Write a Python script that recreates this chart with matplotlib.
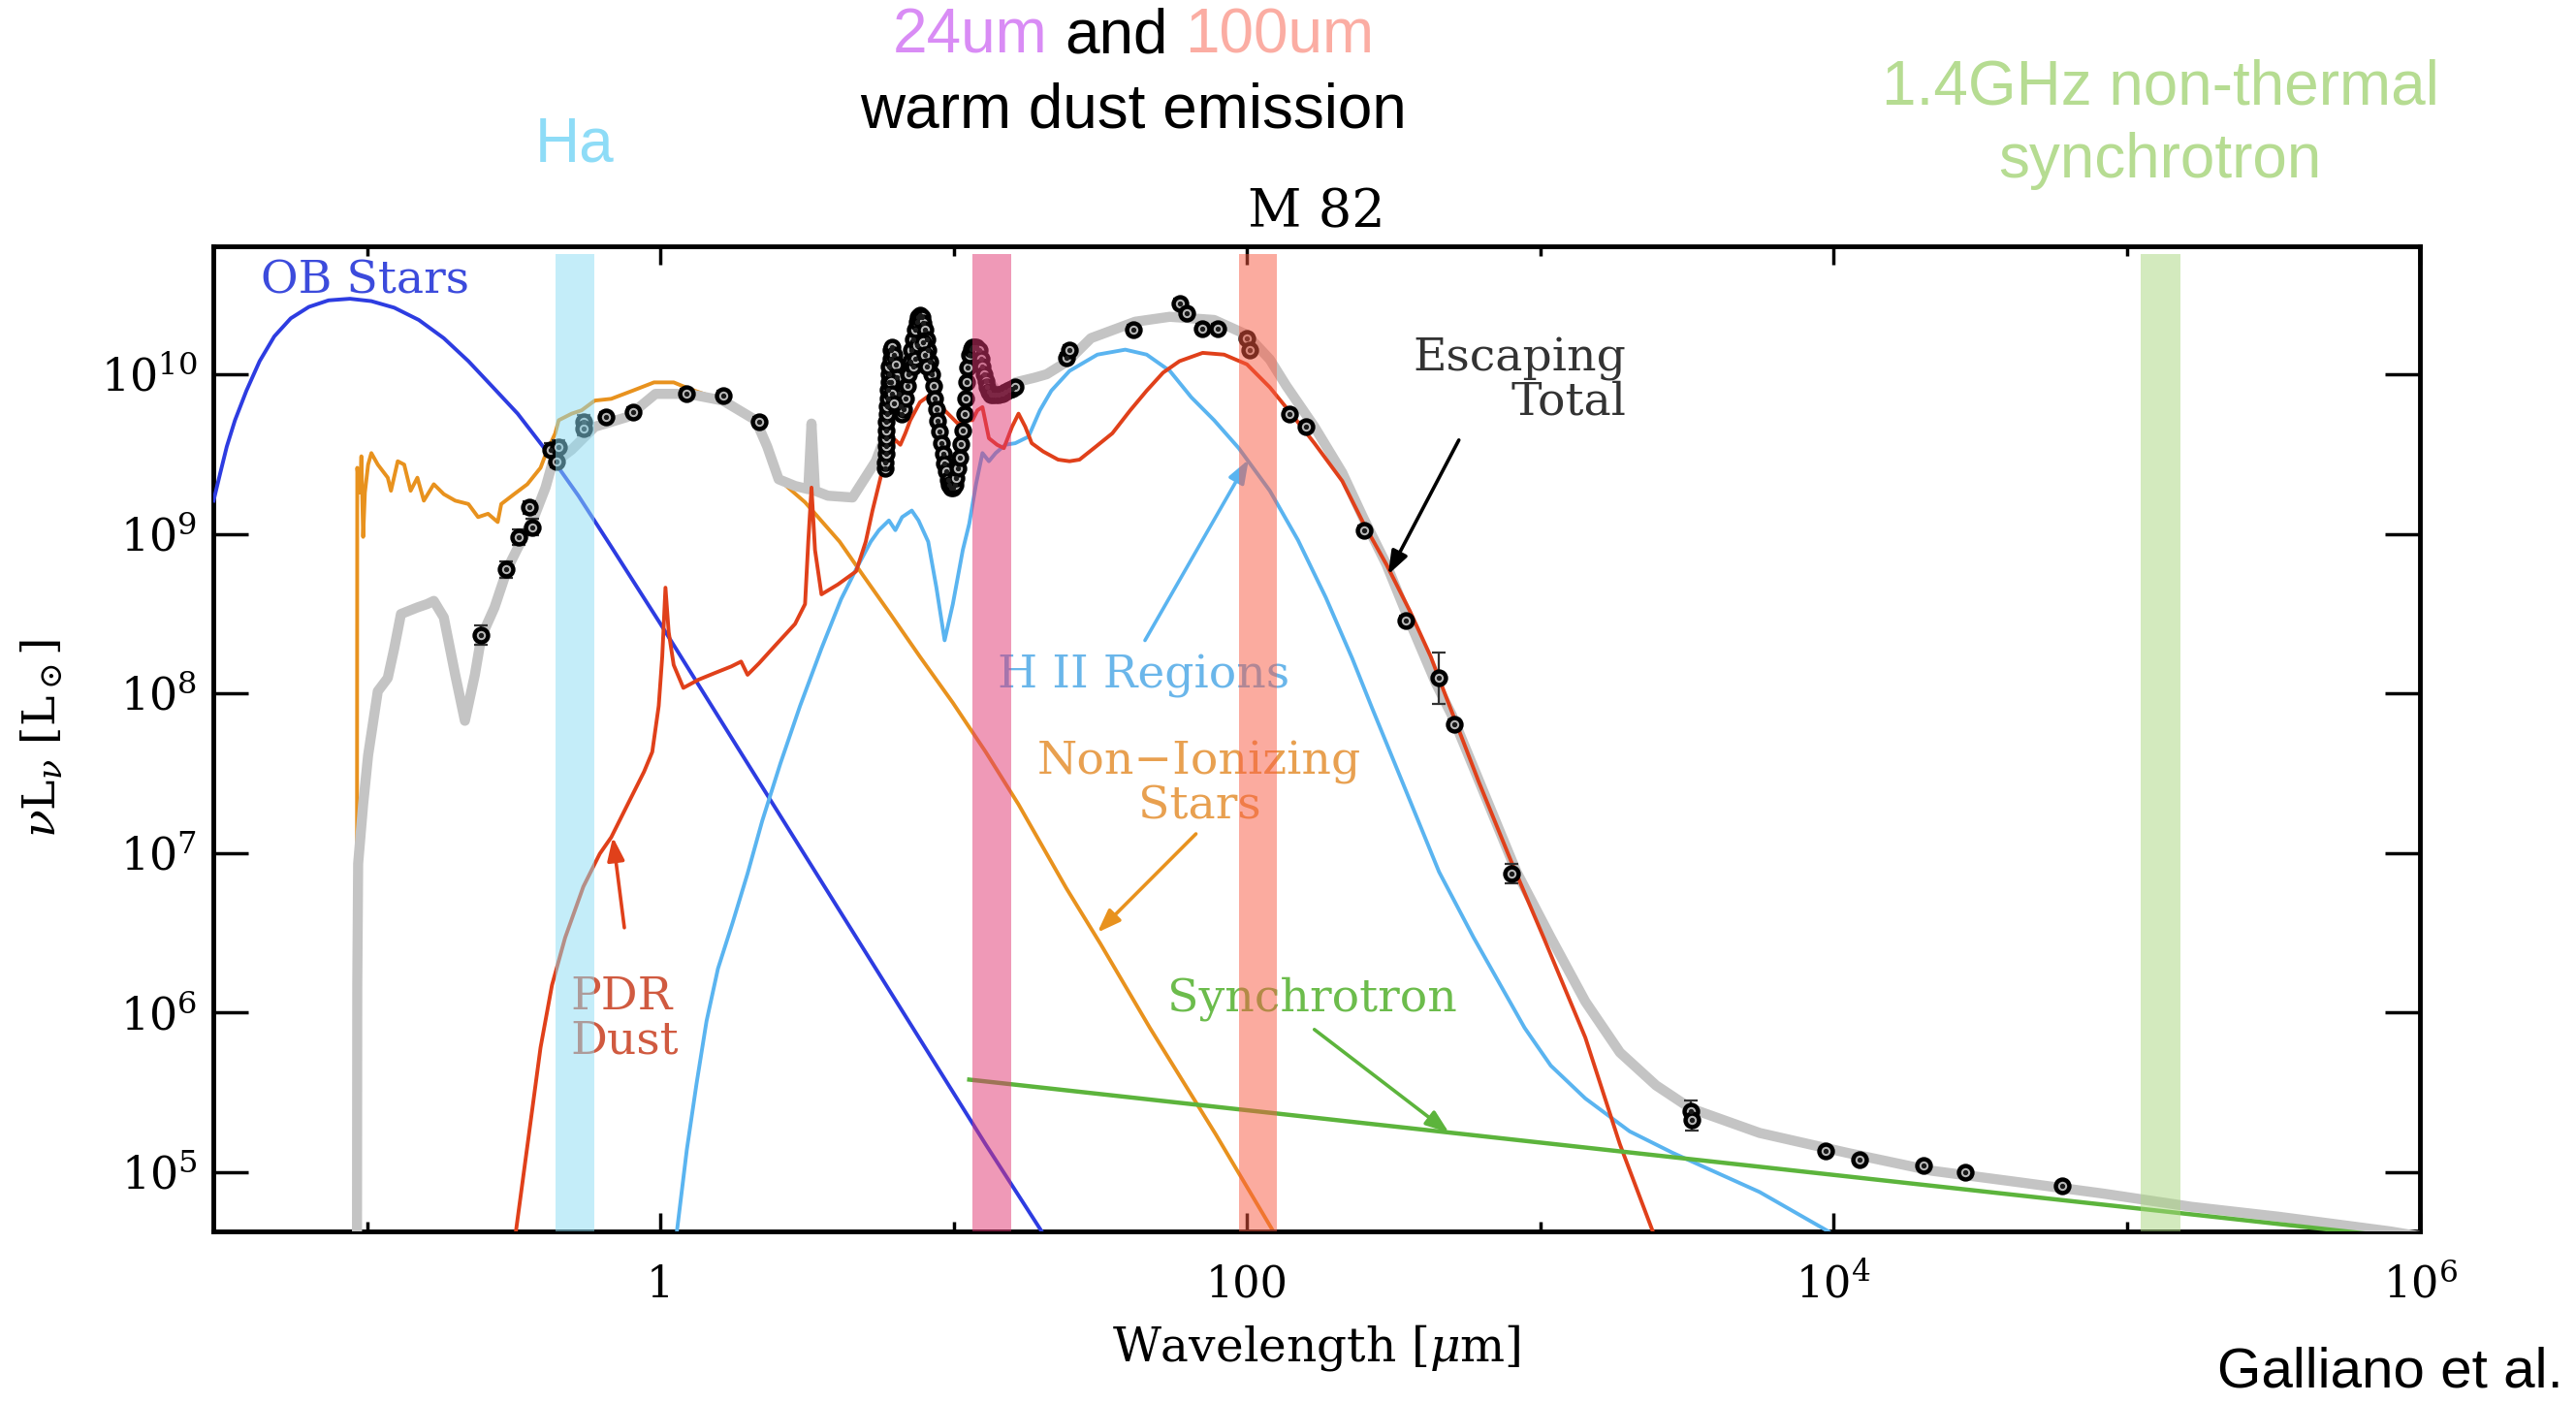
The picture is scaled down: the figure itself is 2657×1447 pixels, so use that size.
import numpy as np
import matplotlib
matplotlib.use("Agg")
import matplotlib.pyplot as plt
from matplotlib.ticker import FixedLocator, NullFormatter, NullLocator

plt.rcParams['font.family'] = ['DejaVu Serif']
plt.rcParams['mathtext.fontset'] = 'dejavuserif'

# ---------------- SED components: log10(wavelength / um), log10(nuL_nu / Lsun) ----------------
ob_loglam = [-1.524, -1.501, -1.479, -1.451, -1.412, -1.367, -1.317, -1.261, -1.199, -1.132,
             -1.059, -0.986, -0.908, -0.824, -0.739, -0.655, -0.571, -0.487, -0.375, -0.280,
             -0.168, 0.000, 0.269, 0.549, 0.829, 1.109, 1.300, 1.350]
ob_logL = [9.208, 9.383, 9.547, 9.712, 9.897, 10.082, 10.237, 10.350, 10.422, 10.463,
           10.473, 10.458, 10.417, 10.340, 10.226, 10.082, 9.918, 9.753, 9.486, 9.239,
           8.920, 8.436, 7.644, 6.821, 5.998, 5.175, 4.630, 4.480]

star_loglam = [-1.036, -1.034, -1.025, -1.020, -1.014, -1.008, -0.997, -0.986, -0.964, -0.930,
               -0.919, -0.896, -0.874, -0.852, -0.829, -0.807, -0.773, -0.739, -0.700, -0.655,
               -0.622, -0.588, -0.555, -0.543, -0.499, -0.454, -0.409, -0.392, -0.359, -0.347,
               -0.303, -0.269, -0.224, -0.168, -0.095, -0.022, 0.045, 0.101, 0.213, 0.308,
               0.353, 0.403, 0.493, 0.611, 0.689, 0.784, 0.885, 0.997, 1.109, 1.221,
               1.384, 1.501, 1.669, 1.894, 2.090, 2.174]
star_logL = [4.500, 9.414, 9.259, 9.486, 8.981, 9.259, 9.434, 9.506, 9.434, 9.352,
             9.270, 9.455, 9.434, 9.270, 9.352, 9.208, 9.311, 9.249, 9.208, 9.187,
             9.105, 9.126, 9.074, 9.187, 9.249, 9.311, 9.414, 9.496, 9.630, 9.712,
             9.753, 9.774, 9.835, 9.846, 9.897, 9.949, 9.949, 9.907, 9.835, 9.733,
             9.588, 9.342, 9.198, 8.951, 8.745, 8.498, 8.230, 7.942, 7.634, 7.305,
             6.780, 6.430, 5.905, 5.237, 4.630, 4.370]

total_loglam = [-1.035, -1.034, -1.031, -1.014, -0.997, -0.964, -0.930, -0.908, -0.885, -0.829,
                -0.796, -0.773, -0.739, -0.700, -0.667, -0.633, -0.611, -0.566, -0.521, -0.476,
                -0.431, -0.392, -0.370, -0.303, -0.224, -0.112, -0.017, 0.095, 0.213, 0.325,
                0.364, 0.403, 0.459, 0.504, 0.515, 0.527, 0.571, 0.655, 0.734, 0.768,
                0.779, 0.796, 0.818, 0.846, 0.874, 0.891, 0.913, 0.941, 0.969, 0.997,
                1.020, 1.036, 1.053, 1.087, 1.120, 1.154, 1.210, 1.277, 1.317, 1.389,
                1.468, 1.619, 1.737, 1.888, 2.000, 2.078, 2.134, 2.230, 2.325, 2.398,
                2.476, 2.549, 2.644, 2.700, 2.790, 2.919, 3.036, 3.154, 3.272, 3.395,
                3.513, 3.748, 4.045, 4.336, 4.633, 4.924, 5.221, 5.518, 5.899, 6.000]
total_logL = [4.500, 6.173, 6.934, 7.305, 7.613, 8.014, 8.097, 8.282, 8.498, 8.539,
              8.560, 8.580, 8.477, 8.117, 7.829, 8.117, 8.354, 8.539, 8.786, 8.951,
              9.105, 9.290, 9.434, 9.527, 9.671, 9.733, 9.877, 9.877, 9.835, 9.712,
              9.547, 9.342, 9.300, 9.280, 9.691, 9.270, 9.239, 9.228, 9.455, 9.619,
              9.877, 10.134, 9.959, 10.031, 10.288, 10.360, 10.237, 9.897, 9.547, 9.321,
              9.444, 9.722, 10.103, 10.144, 9.959, 9.877, 9.949, 9.979, 10.000, 10.082,
              10.226, 10.329, 10.360, 10.340, 10.247, 10.093, 9.928, 9.671, 9.383, 9.095,
              8.807, 8.477, 8.066, 7.860, 7.459, 6.883, 6.471, 6.070, 5.751, 5.545,
              5.401, 5.247, 5.123, 5.010, 4.938, 4.866, 4.784, 4.722, 4.630, 4.599]

pdr_loglam = [-0.504, -0.493, -0.448, -0.409, -0.370, -0.325, -0.263, -0.207, -0.168, -0.112,
              -0.056, -0.028, -0.006, 0.006, 0.017, 0.028, 0.045, 0.078, 0.129, 0.185,
              0.241, 0.275, 0.297, 0.336, 0.392, 0.459, 0.493, 0.504, 0.515, 0.527,
              0.549, 0.605, 0.667, 0.700, 0.723, 0.756, 0.779, 0.801, 0.818, 0.835,
              0.852, 0.885, 0.924, 0.969, 1.014, 1.042, 1.064, 1.081, 1.098, 1.120,
              1.148, 1.171, 1.199, 1.221, 1.244, 1.266, 1.305, 1.356, 1.395, 1.429,
              1.485, 1.541, 1.602, 1.658, 1.714, 1.770, 1.849, 1.922, 2.000, 2.078,
              2.151, 2.230, 2.325, 2.398, 2.476, 2.555, 2.627, 2.678, 2.790, 2.902,
              3.014, 3.154, 3.272, 3.384, 3.406]
pdr_logL = [4.424, 4.630, 5.247, 5.782, 6.173, 6.471, 6.790, 6.996, 7.099, 7.305,
            7.510, 7.634, 7.922, 8.230, 8.663, 8.385, 8.179, 8.035, 8.086, 8.128,
            8.169, 8.200, 8.117, 8.189, 8.302, 8.436, 8.560, 8.951, 9.290, 8.899,
            8.621, 8.683, 8.765, 8.951, 9.146, 9.393, 9.516, 9.588, 9.558, 9.630,
            9.712, 9.825, 9.877, 9.774, 9.691, 9.712, 9.712, 9.774, 9.794, 9.599,
            9.558, 9.537, 9.671, 9.753, 9.671, 9.568, 9.516, 9.465, 9.455, 9.465,
            9.547, 9.630, 9.774, 9.897, 10.010, 10.082, 10.134, 10.123, 10.062, 9.918,
            9.753, 9.568, 9.331, 9.064, 8.807, 8.519, 8.230, 7.984, 7.449, 6.944,
            6.461, 5.844, 5.175, 4.630, 4.475]

hii_loglam = [0.050, 0.056, 0.090, 0.123, 0.157, 0.196, 0.246, 0.297, 0.347, 0.409,
              0.476, 0.549, 0.616, 0.672, 0.717, 0.745, 0.779, 0.801, 0.824, 0.857,
              0.880, 0.913, 0.941, 0.969, 0.997, 1.031, 1.053, 1.076, 1.098, 1.120,
              1.143, 1.176, 1.210, 1.255, 1.294, 1.333, 1.395, 1.490, 1.585, 1.658,
              1.737, 1.810, 1.888, 1.972, 2.078, 2.174, 2.269, 2.359, 2.426, 2.543,
              2.655, 2.773, 2.947, 3.036, 3.154, 3.305, 3.451, 3.748, 3.983]
hii_logL = [4.527, 4.630, 5.144, 5.556, 5.947, 6.276, 6.564, 6.872, 7.202, 7.562,
            7.922, 8.282, 8.591, 8.796, 8.951, 9.023, 9.084, 9.023, 9.105, 9.146,
            9.084, 8.951, 8.663, 8.333, 8.560, 8.899, 9.064, 9.311, 9.506, 9.455,
            9.506, 9.558, 9.568, 9.609, 9.774, 9.897, 10.021, 10.123, 10.154, 10.123,
            10.021, 9.856, 9.712, 9.537, 9.270, 8.961, 8.601, 8.220, 7.912, 7.387,
            6.883, 6.471, 5.905, 5.669, 5.463, 5.257, 5.123, 4.877, 4.630]

sync_loglam = [1.053, 6.000]
sync_logL = [5.581, 4.579]

# ---------------- observations ----------------
phot_loglam = [-0.611, -0.527, -0.482, -0.437, -0.448, -0.375, -0.353, -0.347, -0.263, -0.263,
               -0.185, -0.095, 0.090, 0.213, 0.336, 1.384, 1.395, 1.613, 1.770, 1.793,
               1.849, 1.899, 2.000, 2.011, 2.146, 2.202, 2.398, 2.543, 2.655, 2.706,
               2.902, 3.513, 3.518, 3.972, 4.090, 4.308, 4.448, 4.779]
phot_logL = [8.364, 8.776, 8.981, 9.043, 9.167, 9.527, 9.455, 9.547, 9.702, 9.660,
             9.733, 9.763, 9.877, 9.866, 9.702, 10.103, 10.154, 10.278, 10.442, 10.381,
             10.288, 10.288, 10.226, 10.154, 9.753, 9.671, 9.023, 8.457, 8.097, 7.809,
             6.872, 5.381, 5.329, 5.134, 5.082, 5.041, 5.000, 4.918]
phot_err = [0.06, 0.05, 0.05, 0.05, 0.04, 0.04, 0.04, 0.04, 0.04, 0.04,
            0.03, 0.03, 0.03, 0.03, 0.03, 0.03, 0.03, 0.03, 0.03, 0.03,
            0.03, 0.03, 0.03, 0.03, 0.03, 0.03, 0.03, 0.03, 0.16, 0.03,
            0.06, 0.07, 0.07, 0.02, 0.02, 0.02, 0.02, 0.02]

# mid-infrared spectrum samples
irs_loglam = [0.765, 0.765, 0.768, 0.768, 0.768, 0.771, 0.771, 0.774, 0.774, 0.777,
              0.777, 0.779, 0.779, 0.779, 0.785, 0.785, 0.790, 0.796, 0.801, 0.807,
              0.812, 0.818, 0.824, 0.830, 0.835, 0.841, 0.846, 0.852, 0.857, 0.863,
              0.868, 0.874, 0.880, 0.885, 0.891, 0.896, 0.902, 0.908, 0.913, 0.919,
              0.924, 0.930, 0.935, 0.941, 0.946, 0.952, 0.958, 0.964, 0.969, 0.975,
              0.980, 0.986, 0.992, 0.997, 1.003, 1.008, 1.014, 1.020, 1.025, 1.031,
              1.036, 1.040, 1.044, 1.048, 1.053, 1.059, 1.064, 1.070, 1.076, 1.081,
              1.087, 1.092, 1.098, 1.104, 1.109, 1.115, 1.120, 1.126, 1.132, 1.143,
              1.154, 1.165, 1.176, 1.188, 1.199, 1.210, 0.785, 0.790, 0.796, 0.863,
              0.868, 0.874, 0.896, 0.902, 0.908]
irs_logL = [9.41, 9.45, 9.50, 9.55, 9.60, 9.65, 9.70, 9.75, 9.80, 9.85,
            9.90, 9.95, 10.00, 10.05, 10.10, 10.15, 10.17, 10.12, 10.06, 9.98,
            9.88, 9.80, 9.75, 9.78, 9.85, 9.93, 10.00, 10.08, 10.15, 10.22,
            10.28, 10.33, 10.36, 10.37, 10.36, 10.32, 10.28, 10.22, 10.15, 10.08,
            10.00, 9.93, 9.85, 9.78, 9.71, 9.64, 9.57, 9.50, 9.44, 9.39,
            9.34, 9.31, 9.29, 9.29, 9.31, 9.35, 9.41, 9.48, 9.56, 9.65,
            9.75, 9.85, 9.95, 10.04, 10.12, 10.16, 10.17, 10.17, 10.17, 10.16,
            10.15, 10.10, 10.05, 10.00, 9.96, 9.92, 9.89, 9.87, 9.87, 9.87,
            9.87, 9.88, 9.89, 9.90, 9.91, 9.92, 9.95, 9.88, 9.82, 10.05,
            10.10, 10.18, 10.20, 10.12, 10.05]

# ---------------- photometric bands (um) ----------------
band_lo = [0.440, 11.55, 93.7, 1.116e5]
band_hi = [0.596, 15.75, 126.2, 1.52e5]
band_colors = ['#8bddf5', '#e13571', '#f95941', '#a9d77f']

# axis ticks
xtick_major = [1, 100, 1e4, 1e6]
xtick_labels = ['1', '100', '$10^{4}$', '$10^{6}$']
xtick_minor = [0.1, 10, 1e3, 1e5]
ytick_major = [1e5, 1e6, 1e7, 1e8, 1e9, 1e10]
ytick_labels = ['$10^{5}$', '$10^{6}$', '$10^{7}$', '$10^{8}$', '$10^{9}$', '$10^{10}$']


def lin(a):
    return 10.0 ** np.asarray(a, dtype=float)


fig = plt.figure(figsize=(26.57, 14.47), dpi=100)
ax = fig.add_axes([0.0828, 0.1223, 0.8566, 0.7022])
ax.set_xscale('log')
ax.set_yscale('log')

ax.plot(lin(star_loglam), lin(star_logL), color='#e8921e', lw=2.8, zorder=2)
ax.plot(lin(total_loglam), lin(total_logL), color='#c4c4c4', lw=7.5, zorder=3,
        solid_joinstyle='round')
ax.plot(lin(ob_loglam), lin(ob_logL), color='#2d3ce1', lw=2.8, zorder=4)
ax.plot(lin(hii_loglam), lin(hii_logL), color='#5ab4f0', lw=2.8, zorder=4)
ax.plot(lin(pdr_loglam), lin(pdr_logL), color='#e0401a', lw=2.8, zorder=4)
ax.plot(lin(sync_loglam), lin(sync_logL), color='#5cb43c', lw=3.2, zorder=4)

# observed fluxes
px, py = lin(phot_loglam), lin(phot_logL)
lo = py - lin(np.asarray(phot_logL) - np.asarray(phot_err))
hi = lin(np.asarray(phot_logL) + np.asarray(phot_err)) - py
ax.errorbar(px, py, yerr=[lo, hi], fmt='none', ecolor='#333333', elinewidth=1.6,
            capsize=5, capthick=1.6, zorder=5)
for xs, ys in [(px, py), (lin(irs_loglam), lin(irs_logL))]:
    ax.plot(xs, ys, ls='none', marker='o', ms=10, mfc='#b8b8b8', mec='black',
            mew=3.2, zorder=6)
    ax.plot(xs, ys, ls='none', marker='o', ms=2.8, mfc='#1a1a1a', mec='#1a1a1a', zorder=7)

# filter bands
for l, h, c in zip(band_lo, band_hi, band_colors):
    ax.axvspan(l, h, ymin=0, ymax=0.992, color=c, alpha=0.5, lw=0, zorder=10)

ax.set_xlim(10 ** -1.525, 1e6)
ax.set_ylim(10 ** 4.63, 10 ** 10.802)

ax.xaxis.set_major_locator(FixedLocator(xtick_major))
ax.set_xticklabels(xtick_labels)
ax.xaxis.set_minor_locator(FixedLocator(xtick_minor))
ax.xaxis.set_minor_formatter(NullFormatter())
ax.yaxis.set_major_locator(FixedLocator(ytick_major))
ax.set_yticklabels(ytick_labels)
ax.yaxis.set_minor_locator(NullLocator())

ax.tick_params(axis='x', which='major', direction='in', top=True, length=14, width=2.5,
               pad=24, labelsize=32)
ax.tick_params(axis='x', which='minor', direction='in', top=True, length=7, width=2.5)
ax.tick_params(axis='y', which='major', direction='in', right=True, length=26, width=2.5,
               pad=12, labelsize=33)
for s in ax.spines.values():
    s.set_linewidth(3.5)

ax.set_xlabel(r'Wavelength [$\mu$m]', fontsize=35, labelpad=12)
ax.set_ylabel(r'$\nu$L$_\nu$ [L$_\odot$]', fontsize=34, labelpad=26)
ax.set_title('M 82', fontsize=39, pad=14)

# component labels
lab = dict(fontsize=34, zorder=8)
ax.text(0.0982, 3.85e10, 'OB Stars', color='#3c4bdc', ha='center', va='center', **lab)
ax.text(1968, 9.1e9, 'Escaping\nTotal', color='#333333', ha='right', va='center',
        linespacing=1.0, **lab)
ax.text(44.4, 1.28e8, 'H II Regions', color='#6ab6ea', ha='center', va='center', **lab)
ax.text(68.8, 2.68e7, 'Non\u2212Ionizing\nStars', color='#e8a050', ha='center',
        va='center', linespacing=1.0, **lab)
ax.text(0.492, 9.16e5, 'PDR\nDust', color='#d05a40', ha='left', va='center',
        linespacing=1.0, **lab)
ax.text(167.5, 1.23e6, 'Synchrotron', color='#6cbc4c', ha='center', va='center', **lab)

arrows = [
    ((0.688, 1.26e7), (0.753, 3.41e6), '#e0401a'),
    ((30.9, 3.18e6), (67.0, 1.32e7), '#e8921e'),
    ((101.3, 2.92e9), (44.9, 2.15e8), '#5ab4f0'),
    ((303, 5.56e8), (528, 3.87e9), 'black'),
    ((489, 1.77e5), (169.8, 7.85e5), '#5cb43c'),
]
for head, tail, c in arrows:
    ax.annotate('', xy=head, xytext=tail, xycoords='data', textcoords='data',
                arrowprops=dict(arrowstyle='-|>,head_length=0.6,head_width=0.22',
                                mutation_scale=24, color=c, lw=2.6,
                                shrinkA=0, shrinkB=0), zorder=8)

# annotations above the frame
sans = dict(family=['Liberation Sans', 'DejaVu Sans'], fontsize=46)
W, H = fig.get_size_inches() * fig.dpi
renderer = fig.canvas.get_renderer()


def text_width(s):
    t = fig.text(0, 0, s, **sans)
    w = t.get_window_extent(renderer).width
    t.remove()
    return w


parts = [('24um', '#d98cf5'), ('and', 'black'), ('100um', '#fbada3')]
space = text_width('x x') - text_width('xx')
widths = [text_width(s) for s, _ in parts]
total = sum(widths) + space * (len(parts) - 1)
x = 1169 - total / 2
for (s, c), w in zip(parts, widths):
    fig.text(x / W, 0.9744, s, color=c, ha='left', va='center', **sans)
    x += w + space

fig.text(0.440, 0.9212, 'warm dust emission', color='black', ha='center', va='center', **sans)
fig.text(0.2232, 0.897, 'Ha', color='#8edcf7', ha='center', va='center', **sans)
fig.text(0.8386, 0.9378, '1.4GHz non-thermal', color='#b6dc92', ha='center', va='center', **sans)
fig.text(0.8386, 0.8853, 'synchrotron', color='#b6dc92', ha='center', va='center', **sans)
fig.text(0.9277, 0.0221, 'Galliano et al.', color='black', ha='center', va='center',
         family=['Liberation Sans', 'DejaVu Sans'], fontsize=42)

fig.savefig('out.png', dpi=100)
